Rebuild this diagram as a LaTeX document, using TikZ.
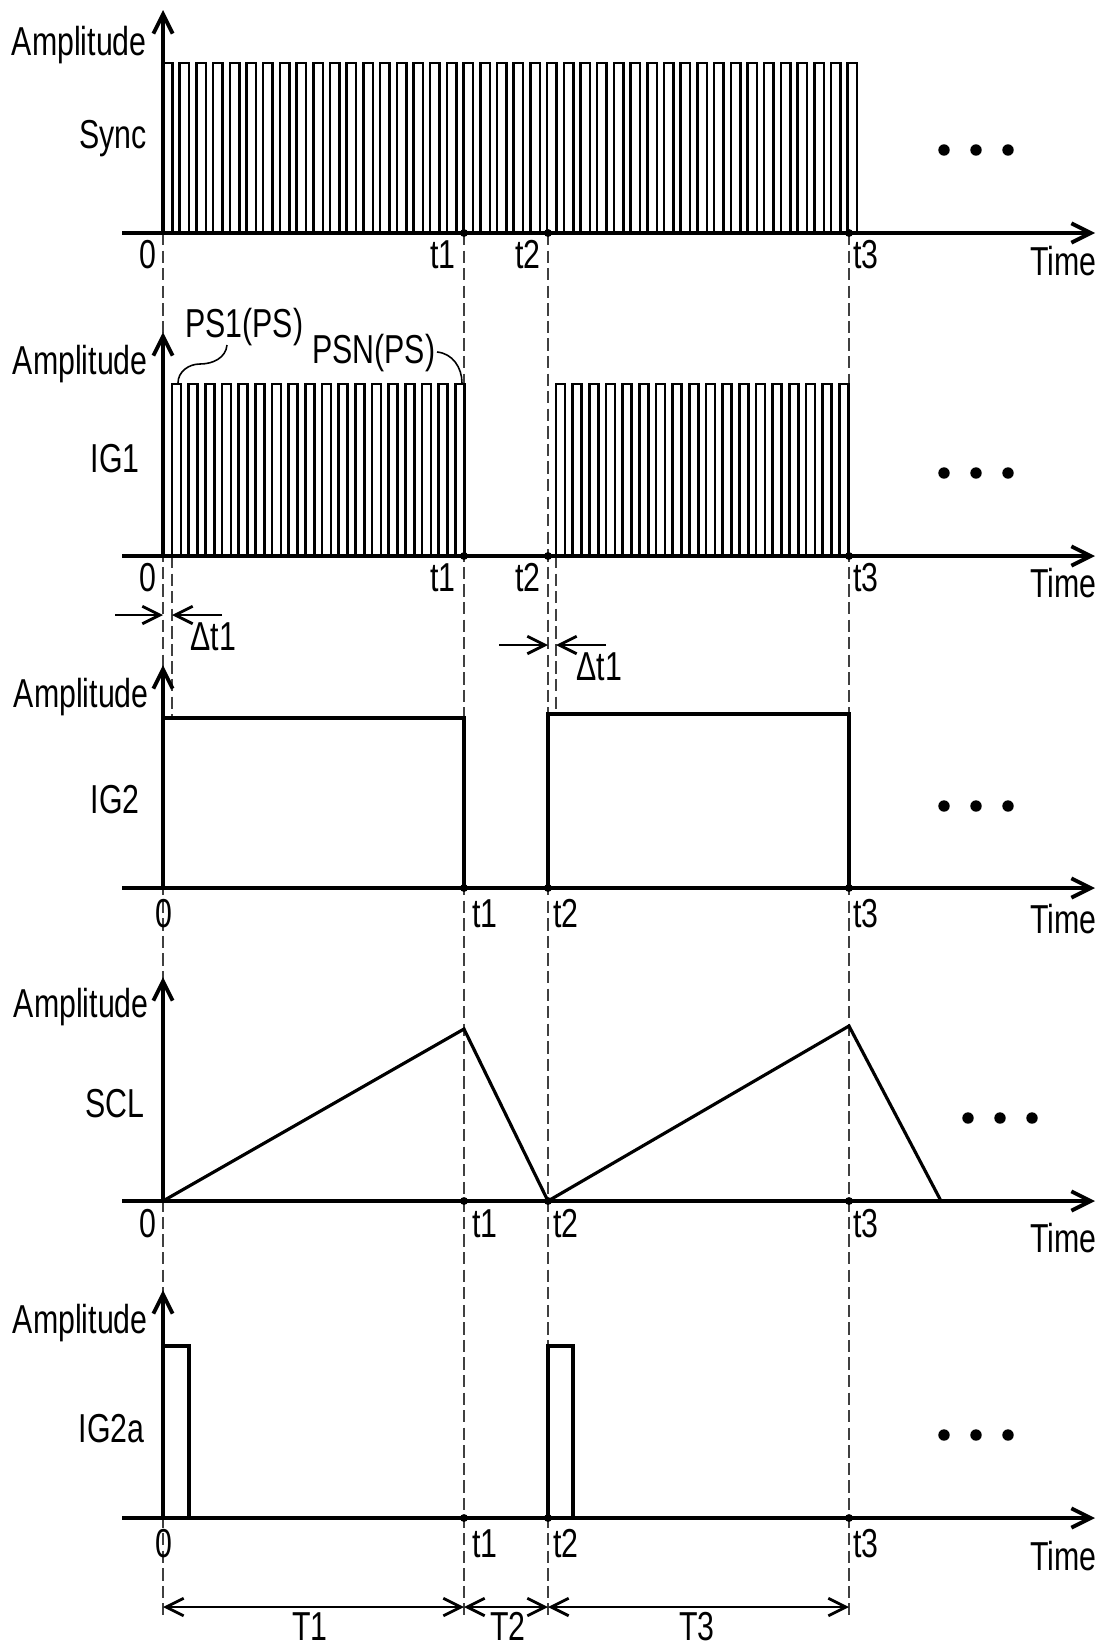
\documentclass[tikz,border=0pt]{standalone}
\usepackage{fontspec}
\setmainfont{Liberation Sans}[FakeStretch=0.75]
\usetikzlibrary{arrows.meta}

\begin{document}
\begin{tikzpicture}[x=0.02cm, y=-0.02cm,
    axis/.style={line width=2.2pt, -{Straight Barb[length=11pt,width=11pt]}},
    wave/.style={line width=1.8pt, line join=miter},
    guide/.style={line width=0.6pt, black!75, dash pattern=on 7pt off 3pt},
    dimarrow/.style={line width=0.9pt, -{Straight Barb[length=10pt,width=10pt,line width=1.6pt]}},
    dimboth/.style={line width=0.9pt, {Straight Barb[length=10pt,width=10pt,line width=1.6pt]}-{Straight Barb[length=10pt,width=10pt,line width=1.6pt]}},
    lbl/.style={font=\fontsize{23}{26}\selectfont, inner sep=0pt},
    bigdot/.style={circle, fill, inner sep=0pt, minimum size=6.5pt},
    tdot/.style={circle, fill, inner sep=0pt, minimum size=4.5pt}]
    \useasboundingbox (0,0) rectangle (1107,1650);

    % Draw the dashed guide lines at 0, t1, t2, t3
    \foreach \t in {163,464,548,849}
        \draw[guide] (\t,233) -- (\t,1615);
    \draw[guide] (172,556) -- (172,718);
    \draw[guide] (556,556) -- (556,714);

    % Sync
    \foreach \n in {0,...,41}
        \draw[wave, line width=1.4pt] ({163+16.7*\n},233) |- ({172.5+16.7*\n},63) -- ({172.5+16.7*\n},233);
    \draw[axis] (122,233) -- (1095,233);
    \draw[axis] (163,233) -- (163,10);
    \node[lbl, anchor=base east] (amp1) at (147,55) {Amplitude};
    \node[lbl, anchor=base east] (sync) at (147,148) {Sync};
    \node[lbl, anchor=base east] (zero1) at (157,268) {0};
    \node[lbl, anchor=base east] (ta1) at (456,268) {t1};
    \node[lbl, anchor=base east] (tb1) at (541,268) {t2};
    \node[lbl, anchor=base west] (tc1) at (853,268) {t3};
    \node[lbl, anchor=base east] (time1) at (1097,275) {Time};
    \foreach \t in {464,548,849}
        \node[tdot] at (\t,233) {};
    \foreach \x in {944,976,1008}
        \node[bigdot] at (\x,150) {};

    % IG1
    \foreach \n in {0,...,17} {
        \draw[wave, line width=1.4pt] ({172+16.67*\n},556) |- ({181+16.67*\n},384) -- ({181+16.67*\n},556);
        \draw[wave, line width=1.4pt] ({556+16.67*\n},556) |- ({565+16.67*\n},384) -- ({565+16.67*\n},556);
    }
    \draw[axis] (122,556) -- (1095,556);
    \draw[axis] (163,556) -- (163,332);
    \node[lbl, anchor=base east] (amp2) at (148,374) {Amplitude};
    \node[lbl, anchor=base east] (ig1) at (140,472) {IG1};
    \node[lbl, anchor=base east] (zero2) at (157,591) {0};
    \node[lbl, anchor=base east] (ta2) at (456,591) {t1};
    \node[lbl, anchor=base east] (tb2) at (541,591) {t2};
    \node[lbl, anchor=base west] (tc2) at (853,591) {t3};
    \node[lbl, anchor=base east] (time2) at (1097,597) {Time};
    \foreach \t in {464,548,849}
        \node[tdot] at (\t,556) {};
    \foreach \x in {944,976,1008}
        \node[bigdot] at (\x,473) {};
    \node[lbl, anchor=base west] (ps1) at (185,337) {PS1(PS)};
    \node[lbl, anchor=base west] (psn) at (312,363) {PSN(PS)};
    \draw[line width=0.9pt] (227,345) to[out=-95,in=0] (200,364) to[out=180,in=90] (178,383);
    \draw[line width=0.9pt] (437,352) to[out=-5,in=90] (462,383);

    % Delta t1 marks
    \draw[dimarrow] (115,615) -- (163,615);
    \draw[dimarrow] (222,615) -- (172,615);
    \node[lbl, anchor=base west] (dt1) at (190,650) {Δt1};
    \draw[dimarrow] (499,645) -- (548,645);
    \draw[dimarrow] (606,645) -- (556,645);
    \node[lbl, anchor=base west] (dt2) at (576,680) {Δt1};

    % IG2
    \draw[wave] (163,888) |- (464,718) -- (464,888);
    \draw[wave] (548,888) |- (849,714) -- (849,888);
    \draw[axis] (122,888) -- (1095,888);
    \draw[axis] (163,888) -- (163,665);
    \node[lbl, anchor=base east] (amp3) at (149,707) {Amplitude};
    \node[lbl, anchor=base east] (ig2) at (140,813) {IG2};
    \node[lbl, anchor=base] (zero3) at (164,927) {0};
    \node[lbl, anchor=base west] (ta3) at (472,927) {t1};
    \node[lbl, anchor=base west] (tb3) at (553,927) {t2};
    \node[lbl, anchor=base west] (tc3) at (853,927) {t3};
    \node[lbl, anchor=base east] (time3) at (1097,933) {Time};
    \foreach \t in {464,548,849}
        \node[tdot] at (\t,888) {};
    \foreach \x in {944,976,1008}
        \node[bigdot] at (\x,806) {};

    % SCL
    \draw[wave] (163,1201) -- (464,1029) -- (548,1201) -- (849,1026) -- (941,1201);
    \draw[axis] (122,1201) -- (1095,1201);
    \draw[axis] (163,1201) -- (163,977);
    \node[lbl, anchor=base east] (amp4) at (149,1017) {Amplitude};
    \node[lbl, anchor=base east] (scl) at (145,1117) {SCL};
    \node[lbl, anchor=base east] (zero4) at (157,1237) {0};
    \node[lbl, anchor=base west] (ta4) at (472,1237) {t1};
    \node[lbl, anchor=base west] (tb4) at (553,1237) {t2};
    \node[lbl, anchor=base west] (tc4) at (853,1237) {t3};
    \node[lbl, anchor=base east] (time4) at (1097,1252) {Time};
    \foreach \t in {464,548,849}
        \node[tdot] at (\t,1201) {};
    \foreach \x in {968,1000,1032}
        \node[bigdot] at (\x,1118) {};

    % IG2a
    \draw[wave] (163,1518) |- (189,1346) -- (189,1518);
    \draw[wave] (548,1518) |- (573,1346) -- (573,1518);
    \draw[axis] (122,1518) -- (1095,1518);
    \draw[axis] (163,1518) -- (163,1290);
    \node[lbl, anchor=base east] (amp5) at (148,1333) {Amplitude};
    \node[lbl, anchor=base east] (ig2a) at (145,1442) {IG2a};
    \node[lbl, anchor=base] (zero5) at (164,1557) {0};
    \node[lbl, anchor=base west] (ta5) at (472,1557) {t1};
    \node[lbl, anchor=base west] (tb5) at (553,1557) {t2};
    \node[lbl, anchor=base west] (tc5) at (853,1557) {t3};
    \node[lbl, anchor=base east] (time5) at (1097,1570) {Time};
    \foreach \t in {464,548,849}
        \node[tdot] at (\t,1518) {};
    \foreach \x in {944,976,1008}
        \node[bigdot] at (\x,1435) {};

    % Periods T1, T2, T3
    \coordinate (p0) at (163,1607);
    \coordinate (p1) at (464,1607);
    \coordinate (p2) at (548,1607);
    \coordinate (p3) at (849,1607);
    \draw[dimboth] (p0) -- (p1);
    \draw[dimboth] (p1) -- (p2);
    \draw[dimboth] (p2) -- (p3);
    \node[lbl, anchor=base] (T1) at (310,1640) {T1};
    \node[lbl, anchor=base] (T2) at (508,1640) {T2};
    \node[lbl, anchor=base] (T3) at (697,1640) {T3};
\end{tikzpicture}
\end{document}
